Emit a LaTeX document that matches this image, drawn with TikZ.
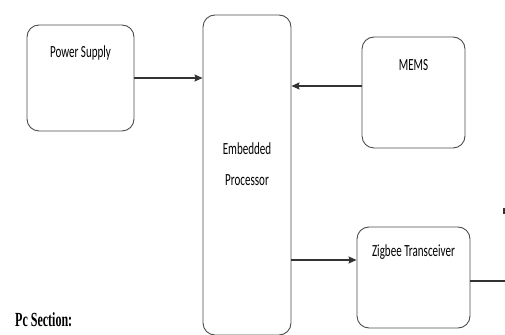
\documentclass[tikz,border=0pt]{standalone}
\usepackage{fontspec}
\usepackage{tikz}
\usetikzlibrary{positioning,arrows.meta}
\newfontfamily\boxfont[FakeStretch=0.65]{Carlito}
\newfontfamily\headfont[FakeStretch=0.6]{Liberation Serif}
\tikzset{
  blk_box/.style = {draw=black!70, line width=0.9pt, rounded corners=12pt,
    inner sep=0pt, align=center, text=black,
    font=\boxfont\fontsize{17}{20}\selectfont},
  blk_txt/.style = {align=center, inner sep=0pt, text=black,
    font=\boxfont\fontsize{17}{31}\selectfont},
  blk_line/.style = {draw=black!80, line width=1.2pt}
}

\begin{document}
\begin{tikzpicture}[x=1pt,y=1pt,->,>={Stealth[length=8pt,width=7pt,inset=1pt]}]
\useasboundingbox (0,0) rectangle (505,334);
\node [blk_box, minimum width=88pt, minimum height=320pt] (proc) at (247,159) {};
\node [blk_txt] (proc_txt) at (247,170) {Embedded\\Processor};
\node [blk_box, minimum width=107pt, text height=33pt, text depth=73pt] (power) at (80.5,256) {Power Supply};
\node [blk_box, minimum width=103pt, text height=34pt, text depth=77pt] (mems) at (413.5,241.5) {MEMS};
\node [blk_box, minimum width=113pt, text height=30pt, text depth=71pt] (zig) at (413.5,56.5) {Zigbee Transceiver};
\node [anchor=base west, inner sep=0pt, font=\headfont\bfseries\fontsize{20}{24}\selectfont] (pc_sec) at (15,7) {Pc Section:};

\draw [blk_line] (power.east) -- (power.east -| proc.west);
\draw [blk_line] ([yshift=6.5pt]mems.west) -- ([yshift=6.5pt]mems.west -| proc.east);
\draw [blk_line] ([yshift=17.5pt]zig.west -| proc.east) -- ([yshift=17.5pt]zig.west);
\coordinate (out_end) at (505,53);
\draw [blk_line,-] ([yshift=-3.5pt]zig.east) -- (out_end);
\coordinate (tick_top) at (504,126);
\draw [blk_line,-] (tick_top) -- ++(0,-6);
\end{tikzpicture}
\end{document}
